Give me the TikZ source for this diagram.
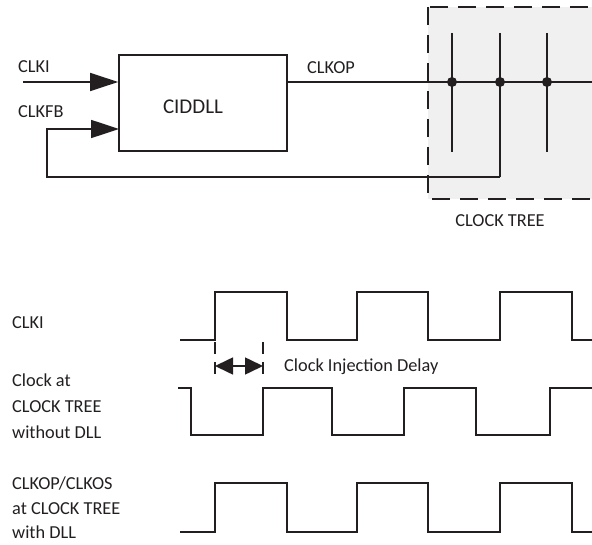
\documentclass[tikz,border=0pt]{standalone}
\usepackage{fontspec}
\setmainfont{Carlito}
\usepackage{tikz}
\usetikzlibrary{arrows.meta, positioning}

\definecolor{ink}{HTML}{231F20}
\definecolor{treefill}{HTML}{F0F0F0}

\begin{document}
\begin{tikzpicture}[x=1pt, y=-1pt,
    wire/.style={draw=ink, line width=1.7pt},
    sigarrow/.style={wire, -{Triangle[length=28pt, width=18pt]}},
    lbl/.style={text=ink, font=\fontsize{18.3}{21}\selectfont, inner sep=0pt},
    multilbl/.style={lbl, align=left, font=\fontsize{18.3}{26}\selectfont},
    blk/.style={draw=ink, line width=1.7pt, minimum width=168pt, minimum height=96pt},
    blktext/.style={text=ink, font=\fontsize{21}{24}\selectfont, inner sep=0pt},
    wave/.style={draw=ink, line width=1.6pt},
    dot/.style={circle, fill=ink, inner sep=0pt, minimum size=10pt}]

    \useasboundingbox (0,0) rectangle (592,545);

    % =================================================================
    % 1. BLOCK DIAGRAM
    % =================================================================
    % Clock tree area (dashed, light grey)
    \filldraw[fill=treefill, draw=ink, line width=1.7pt, dash pattern=on 18pt off 10pt]
        (428,7) rectangle (610,199);

    % DLL block
    \node[blk] (ciddll) at (203,103) {};
    \node[blktext] (ciddlltxt) at ([xshift=-10pt, yshift=-4pt]ciddll.center) {CIDDLL};

    % Input and feedback points
    \coordinate (clkin) at (23,82);
    \coordinate (fbin) at (119,129);
    \coordinate (fbcorner) at (47,177);
    \coordinate (outend) at (610,82);

    % Clock input
    \draw[sigarrow] (clkin) -- (clkin -| ciddll.west);

    % Output line through the tree
    \draw[wire] (ciddll.east |- clkin) -- (outend);

    % Branches of the clock tree
    \foreach \name/\xx/\yy in {tapA/452/152, tapB/500/177, tapC/547/152} {
        \coordinate (\name top) at (\xx,33);
        \coordinate (\name bot) at (\xx,\yy);
        \node[dot] (\name) at (\xx,82) {};
        \draw[wire] (\name top) -- (\name bot);
    }

    % Feedback loop
    \draw[sigarrow] (tapBbot) -| (fbcorner |- fbin) -- (fbin);

    % Labels
    \node[lbl, anchor=west] (lclki) at (18,67) {CLKI};
    \node[lbl, anchor=west] (lclkfb) at (18,112) {CLKFB};
    \node[lbl] (lclkop) at (331,68) {CLKOP};
    \node[lbl] (ltree) at (500,221) {CLOCK TREE};

    % =================================================================
    % 2. TIMING DIAGRAM
    % =================================================================
    % CLKI
    \draw[wave] (180,340) -- (215,340) -- (215,292) -- (287,292) -- (287,340)
        -- (357,340) -- (357,292) -- (428,292) -- (428,340)
        -- (500,340) -- (500,292) -- (572,292) -- (572,340) -- (600,340);

    % Clock at clock tree without DLL
    \draw[wave] (178,388) -- (191,388) -- (191,435) -- (263,435) -- (263,388)
        -- (332,388) -- (332,435) -- (404,435) -- (404,388)
        -- (476,388) -- (476,435) -- (550,435) -- (550,388) -- (600,388);

    % CLKOP/CLKOS with DLL
    \draw[wave] (180,532) -- (215,532) -- (215,483) -- (287,483) -- (287,532)
        -- (357,532) -- (357,483) -- (428,483) -- (428,532)
        -- (500,532) -- (500,483) -- (572,483) -- (572,532) -- (600,532);

    % Injection delay marker
    \coordinate (dl top) at (215,342);
    \coordinate (dl bot) at (215,380);
    \coordinate (dr top) at (263,342);
    \coordinate (dr bot) at (263,380);
    \draw[wave, line width=1.3pt, dash pattern=on 12pt off 8pt] (dl top) -- (dl bot);
    \draw[wave, line width=1.3pt, dash pattern=on 12pt off 8pt] (dr top) -- (dr bot);
    \coordinate (dl) at (215,366);
    \coordinate (dr) at (263,366);
    \draw[wave, {Triangle[length=18pt, width=17pt]}-{Triangle[length=18pt, width=17pt]}] (dl) -- (dr);
    \node[lbl, anchor=west] (ldelay) at (284,367) {Clock Injection Delay};

    % Signal names
    \node[lbl, anchor=west] (wclki) at (12,323) {CLKI};
    \node[multilbl, anchor=west] (wnodll) at (12,406) {Clock at\\CLOCK TREE\\without DLL};
    \node[multilbl, anchor=west, font=\fontsize{18.3}{24.5}\selectfont] (wdll) at (12,508) {CLKOP/CLKOS\\at CLOCK TREE\\with DLL};

\end{tikzpicture}
\end{document}
